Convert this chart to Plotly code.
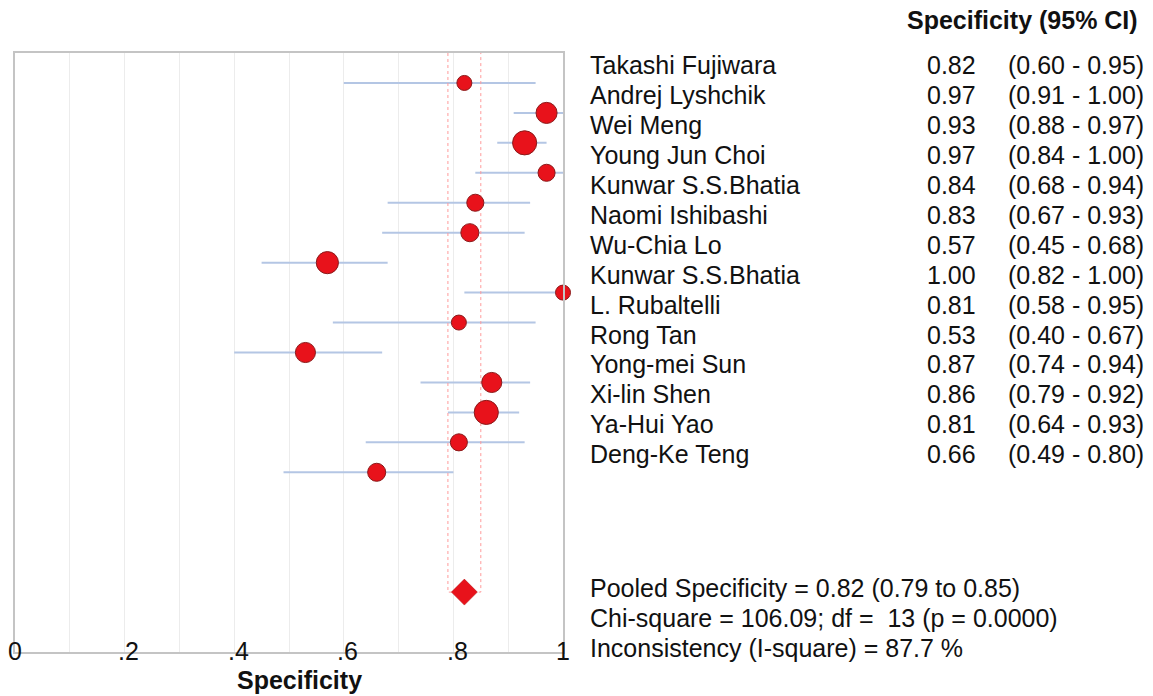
import plotly.graph_objects as go

# ---- data ----
studies = ["Takashi Fujiwara", "Andrej Lyshchik", "Wei Meng", "Young Jun Choi",
           "Kunwar S.S.Bhatia", "Naomi Ishibashi", "Wu-Chia Lo", "Kunwar S.S.Bhatia",
           "L. Rubaltelli", "Rong Tan", "Yong-mei Sun", "Xi-lin Shen", "Ya-Hui Yao",
           "Deng-Ke Teng"]
spec = [0.82, 0.97, 0.93, 0.97, 0.84, 0.83, 0.57, 1.00, 0.81, 0.53, 0.87, 0.86, 0.81, 0.66]
ci_low = [0.60, 0.91, 0.88, 0.84, 0.68, 0.67, 0.45, 0.82, 0.58, 0.40, 0.74, 0.79, 0.64, 0.49]
ci_high = [0.95, 1.00, 0.97, 1.00, 0.94, 0.93, 0.68, 1.00, 0.95, 0.67, 0.94, 0.92, 0.93, 0.80]
weights = [4.4, 8.7, 11.4, 5.7, 5.7, 6.4, 9.6, 4.4, 4.4, 7.9, 7.9, 11.4, 5.7, 6.4]  # relative weight (%)
pooled = 0.82
pooled_low = 0.79
pooled_high = 0.85
stats_lines = ["Pooled Specificity = 0.82 (0.79 to 0.85)",
               "Chi-square = 106.09; df =  13 (p = 0.0000)",
               "Inconsistency (I-square) = 87.7 %"]
tick_vals = [0, 0.2, 0.4, 0.6, 0.8, 1.0]
tick_text = ["0", ".2", ".4", ".6", ".8", "1"]
header = "Specificity (95% CI)"
x_title = "Specificity"

# ---- layout constants ----
W, H = 1153, 696
L, R, T, B = 15, 563, 53, 652
FONT = "Liberation Sans, Arial, sans-serif"
FS = 25
POOLED_ROW = 17
Y_TOP, Y_BOT = -1, 19

def px_x(px):
    return (px - L) / (R - L)

def px_y(py):
    return Y_TOP + (py - T) / (B - T) * (Y_BOT - Y_TOP)

rows = list(range(len(studies)))
fig = go.Figure()

# CI lines
ci_x, ci_y = [], []
for r, lo, hi in zip(rows, ci_low, ci_high):
    ci_x += [lo, hi, None]
    ci_y += [r, r, None]
fig.add_trace(go.Scatter(x=ci_x, y=ci_y, mode="lines",
                         line=dict(color="#b4c6e4", width=2), hoverinfo="skip",
                         cliponaxis=False))

# pooled CI dotted box
fig.add_trace(go.Scatter(x=[pooled_low, pooled_low, pooled_high, pooled_high],
                         y=[Y_TOP, POOLED_ROW, POOLED_ROW, Y_TOP], mode="lines",
                         line=dict(color="#ff9a9a", width=1, dash="dot"),
                         hoverinfo="skip"))

# study markers
sizes = [7.15 * (w ** 0.5) for w in weights]
fig.add_trace(go.Scatter(x=spec, y=rows, mode="markers",
                         marker=dict(size=sizes, color="#e8121b", opacity=1,
                                     line=dict(color="#8a1a1a", width=1)),
                         cliponaxis=False))

# pooled diamond
fig.add_trace(go.Scatter(x=[pooled], y=[POOLED_ROW], mode="markers",
                         marker=dict(symbol="diamond", size=20, color="#e8121b",
                                     opacity=1,
                                     line=dict(color="#b01010", width=0.5)),
                         cliponaxis=False))

ann = []
# right-hand table
for r, name, s, lo, hi in zip(rows, studies, spec, ci_low, ci_high):
    yy = r - 0.6
    ann.append(dict(x=px_x(588), y=yy, xref="paper", yref="y", text=name,
                    xanchor="left", yanchor="middle", showarrow=False))
    ann.append(dict(x=px_x(978), y=yy, xref="paper", yref="y", text=f"{s:.2f}",
                    xanchor="right", yanchor="middle", showarrow=False))
    ann.append(dict(x=px_x(1146), y=yy, xref="paper", yref="y",
                    text=f"({lo:.2f} - {hi:.2f})",
                    xanchor="right", yanchor="middle", showarrow=False))

ann.append(dict(x=px_x(1140), y=1 + (T - 20) / (B - T), xref="paper", yref="paper",
                text=f"<b>{header}</b>", xanchor="right", yanchor="middle",
                showarrow=False))

for k, line in enumerate(stats_lines):
    ann.append(dict(x=px_x(588), y=px_y(588 + 30 * k), xref="paper", yref="y",
                    text=line, xanchor="left", yanchor="middle", showarrow=False))

for v, t in zip(tick_vals, tick_text):
    ann.append(dict(x=v, y=0, xref="x", yref="paper", text=t,
                    xanchor="center", yanchor="middle", showarrow=False,
                    xshift=4 if t.startswith(".") else 0, yshift=1))

ann.append(dict(x=px_x(299), y=-(680 - B) / (B - T), xref="paper", yref="paper",
                text=f"<b>{x_title}</b>", xanchor="center", yanchor="middle",
                showarrow=False))

fig.update_layout(
    width=W, height=H,
    margin=dict(l=L, r=W - R, t=T, b=H - B, pad=0),
    paper_bgcolor="white", plot_bgcolor="white",
    showlegend=False,
    font=dict(family=FONT, size=FS, color="#111111"),
    annotations=ann,
    xaxis=dict(range=[0, 1], showgrid=True, gridcolor="#ececec", gridwidth=1,
               dtick=0.1, tick0=0, showticklabels=False, ticks="",
               showline=True, linecolor="#c4c4c4", linewidth=2, mirror=True,
               zeroline=False, fixedrange=True),
    yaxis=dict(range=[Y_BOT, Y_TOP], showgrid=False, showticklabels=False,
               ticks="", showline=True, linecolor="#c4c4c4", linewidth=2,
               mirror=True, zeroline=False, fixedrange=True),
)

fig.write_html("out.html", config={"displayModeBar": False},
               post_script="document.body.style.margin='0';"
                           "document.body.style.overflow='hidden';")
